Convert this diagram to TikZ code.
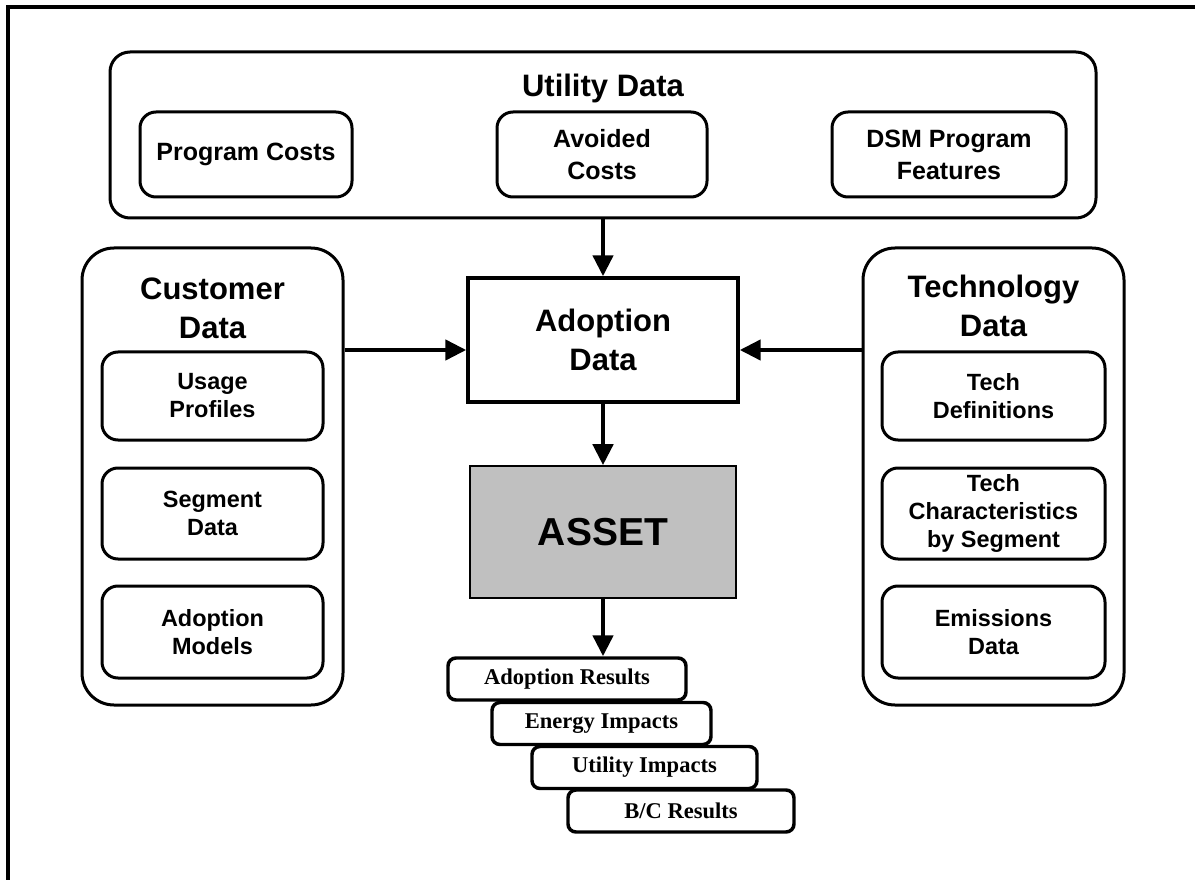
\documentclass[tikz,border=0pt]{standalone}
\usepackage{fontspec}
\setmainfont{Liberation Sans}
\newfontfamily\tnrfont{Liberation Serif}
\usetikzlibrary{arrows.meta}
\tikzset{
  headfont/.style={font=\fontsize{23.25pt}{29.25pt}\selectfont\bfseries},
  topfont/.style={font=\fontsize{18.75pt}{24pt}\selectfont\bfseries},
  sidefont/.style={font=\fontsize{17.6pt}{21pt}\selectfont\bfseries},
  groupbox/.style={draw, line width=2.25pt, fill=white, inner sep=0pt},
  itembox/.style={draw, line width=2.25pt, rounded corners=12pt, fill=white, inner sep=0pt, align=center},
  stackbox/.style={draw, line width=2.6pt, rounded corners=6pt, fill=white, inner sep=0pt, minimum height=31.5pt,
     font=\tnrfont\fontsize{16.9pt}{20pt}\selectfont\bfseries},
  arr/.style={line width=3.4pt, -{Triangle[length=15.75pt,width=15pt]}},
  frameline/.style={line width=3pt}
}
\begin{document}
\begin{tikzpicture}[x=0.75pt,y=-0.75pt]
\useasboundingbox (0,0) rectangle (1195,880);
% outer frame (only top and left visible)
\draw[frameline] (8,880) -- (8,7) -- (1195,7);

% Utility data group
\node[groupbox, rounded corners=15pt, minimum width=739.5pt, minimum height=124.5pt] (util) at (603,135) {};
\node[headfont] (utilt) at (603,88) {Utility Data};
\node[itembox, topfont, minimum width=159pt, minimum height=63.75pt] (pc) at (246,154.5) {Program Costs};
\node[itembox, topfont, minimum width=157.5pt, minimum height=63.75pt] (ac) at (602,154.5) {Avoided\\Costs};
\node[itembox, topfont, minimum width=175.5pt, minimum height=63.75pt] (dsm) at (949,154.5) {DSM Program\\Features};

% Customer data group
\node[groupbox, rounded corners=24pt, minimum width=195.75pt, minimum height=342.75pt] (cust) at (212.5,476.5) {};
\node[headfont, align=center] (custt) at (212.5,308) {Customer\\Data};
\node[itembox, sidefont, minimum width=165.75pt, minimum height=66pt] (usage) at (212.5,396) {Usage\\Profiles};
\node[itembox, sidefont, minimum width=165.75pt, minimum height=68.25pt] (seg) at (212.5,513.5) {Segment\\Data};
\node[itembox, sidefont, minimum width=165.75pt, minimum height=69pt] (am) at (212.5,632) {Adoption\\Models};

% Technology data group
\node[groupbox, rounded corners=24pt, minimum width=195.75pt, minimum height=342.75pt] (tech) at (993.5,476.5) {};
\node[headfont, align=center] (techt) at (993.5,306) {Technology\\Data};
\node[itembox, sidefont, minimum width=167.25pt, minimum height=66pt] (td) at (993.5,396) {Tech\\Definitions};
\node[itembox, sidefont, minimum width=167.25pt, minimum height=68.25pt] (tc) at (993.5,513.5) {Tech\\Characteristics\\by Segment};
\node[itembox, sidefont, minimum width=167.25pt, minimum height=69pt] (em) at (993.5,632) {Emissions\\Data};

% Adoption data
\node[draw, line width=2.6pt, fill=white, headfont, align=center, minimum width=202.5pt, minimum height=93pt] (adopt) at (603,340) {Adoption\\Data};

% ASSET
\node[draw, line width=1.2pt, fill={rgb,255:red,192;green,192;blue,192}, minimum width=199.5pt, minimum height=99pt,
      font=\fontsize{29.25pt}{34pt}\selectfont\bfseries] (asset) at (603,532) {ASSET};

% Output stack
\node[stackbox, minimum width=178.5pt] (ar) at (567,679) {Adoption Results};
\node[stackbox, minimum width=164.25pt] (ei) at (601.5,723.5) {Energy Impacts};
\node[stackbox, minimum width=168.75pt] (ui) at (644.5,767.5) {Utility Impacts};
\node[stackbox, minimum width=169.5pt] (bc) at (681,811) {B/C Results};

% connectors
\draw[arr] (util.south) -- (adopt.north);
\draw[arr] (cust.east |- 0,350) -- (adopt.west |- 0,350);
\draw[arr] (tech.west |- 0,350) -- (adopt.east |- 0,350);
\draw[arr] (adopt.south) -- (asset.north);
\draw[arr] (asset.south) -- (ar.north -| asset.south);
\end{tikzpicture}
\end{document}
